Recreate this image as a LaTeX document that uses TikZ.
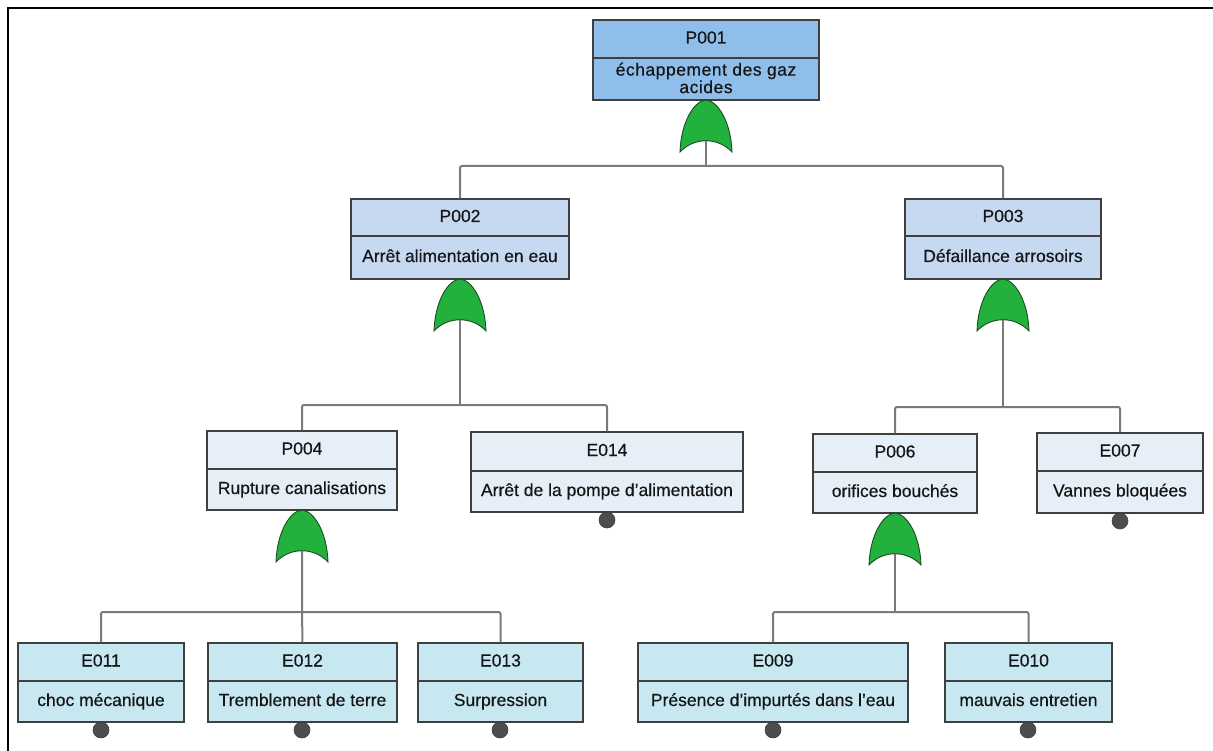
\documentclass[tikz,border=0pt]{standalone}
\usepackage{fontspec}
\setmainfont{Liberation Sans}
\usetikzlibrary{fit}
\definecolor{boxline}{HTML}{3F3F3F}
\definecolor{connc}{HTML}{7A7A7A}
\definecolor{txtc}{HTML}{151515}
\definecolor{lvlA}{HTML}{8FBEEA}
\definecolor{lvlB}{HTML}{C6D9F1}
\definecolor{lvlC}{HTML}{E6EEF8}
\definecolor{lvlD}{HTML}{C8E8F1}
\definecolor{gatec}{HTML}{22B13C}
\definecolor{gateline}{HTML}{1F4A26}
\definecolor{dotc}{HTML}{4D4D4D}
\tikzset{
  ftframe/.style={draw=boxline, line width=1.4pt, inner sep=0pt},
  conn/.style={draw=connc, line width=2pt, rounded corners=2pt},
  lbl/.style={text=txtc, font=\fontsize{17.5}{19}\addfontfeatures{FakeBold=0.4}\selectfont, inner sep=0pt, text height=12.5pt, text depth=3.5pt},
  dot/.style={circle, fill=dotc, draw=boxline, line width=0.6pt, minimum size=16pt, inner sep=0pt},
  gatest/.style={fill=gatec, draw=gateline, line width=0.9pt}
}
\newcommand\ftbox[9]{%
  \node[ftframe, fill=#7, fit={(#2,#3) (#4,#5)}] (#1) {};
  \draw[draw=boxline, line width=1.4pt] (#2,#6) -- (#4,#6);
  \node[lbl] (#1-id) at ({(#2+#4)/2},{(#3+#6)/2}) {#8};
  \node[lbl] (#1-desc) at ({(#2+#4)/2},{(#6+#5)/2}) {#9};
}
\newcommand\orgate[3]{%
  \coordinate (#1-top) at (#2,#3);
  \coordinate (#1-out) at (#2,#3+41);
  \draw[gatest] (#2-26,#3+52) .. controls (#2-25,#3+22) and (#2-12,#3+1) .. (#2,#3)
     .. controls (#2+12,#3+1) and (#2+25,#3+22) .. (#2+26,#3+52)
     .. controls (#2+12,#3+37) and (#2-12,#3+37) .. cycle;
}
\begin{document}
\begin{tikzpicture}[x=1pt,y=-1pt]
\useasboundingbox (0,0) rectangle (1213,751);
\draw[line width=2pt, black] (8,751) -- (8,8) -- (1213,8);

% junctions
\coordinate (j1) at (706,166);
\coordinate (j2) at (460,405);
\coordinate (j3) at (1003,407);
\coordinate (j4) at (302,612);
\coordinate (j5) at (895,612);

% basic event dots (behind boxes)
\foreach \b/\x/\y in {e014/607/520,e007/1120/521,e011/101/730,e012/302/730,e013/500/730,e009/773/730,e010/1028/730}
  \node[dot] (\b-dot) at (\x,\y) {};

% boxes
\node[ftframe, fill=lvlA, fit={(593,20) (819,100)}] (p001) {};
\draw[draw=boxline, line width=1.4pt] (593,58) -- (819,58);
\node[lbl] (p001-id) at (706,39) {P001};
\node[lbl, text height=, text depth=, align=center, font=\fontsize{17.5}{17.5}\addfontfeatures{FakeBold=0.4,LetterSpace=3}\selectfont] (p001-desc) at (706,78) {échappement des gaz\\acides};

\ftbox{p002}{351}{199}{569}{279}{236}{lvlB}{P002}{Arrêt alimentation en eau}
\ftbox{p003}{905}{199}{1101}{279}{236}{lvlB}{P003}{Défaillance arrosoirs}
\ftbox{p004}{207}{431}{397}{510}{469}{lvlC}{P004}{Rupture canalisations}
\ftbox{e014}{471}{432}{743}{512}{471}{lvlC}{E014}{Arrêt de la pompe d'alimentation}
\ftbox{p006}{813}{434}{977}{513}{472}{lvlC}{P006}{orifices bouchés}
\ftbox{e007}{1037}{433}{1203}{513}{471}{lvlC}{E007}{Vannes bloquées}
\ftbox{e011}{18}{643}{184}{722}{681}{lvlD}{E011}{choc mécanique}
\ftbox{e012}{208}{643}{397}{722}{681}{lvlD}{E012}{Tremblement de terre}
\ftbox{e013}{418}{643}{583}{722}{681}{lvlD}{E013}{Surpression}
\ftbox{e009}{638}{643}{908}{722}{681}{lvlD}{E009}{Présence d'impurtés dans l'eau}
\ftbox{e010}{945}{643}{1112}{722}{681}{lvlD}{E010}{mauvais entretien}

% connectors
\draw[conn] (p002.north) |- (j1) -| (p003.north);
\draw[conn] (p004.north) |- (j2) -| (e014.north);
\draw[conn] (p006.north) |- (j3) -| (e007.north);
\draw[conn] (e011.north) |- (j4) -| (e013.north);
\draw[conn] (e009.north) |- (j5) -| (e010.north);

% gates
\orgate{g1}{706}{100}
\orgate{g2}{460}{279}
\orgate{g3}{1003}{279}
\orgate{g4}{302}{510}
\orgate{g6}{895}{513}

\draw[conn] (g1-out) -- (j1);
\draw[conn] (g2-out) -- (j2);
\draw[conn] (g3-out) -- (j3);
\draw[conn] (g4-out) -- (j4) -- (e012.north);
\draw[conn] (g6-out) -- (j5);
\end{tikzpicture}
\end{document}
